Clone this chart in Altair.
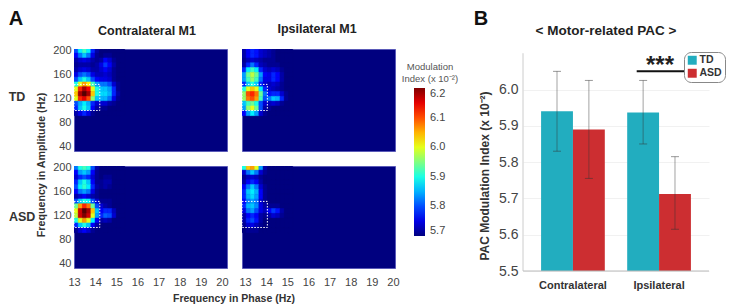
import altair as alt
import pandas as pd

FONT = "Liberation Sans"
cols = [13.0 + 0.2 * i for i in range(12)]
rows = [204 - 8 * i for i in range(14)]

td_contra = [
 [580,588,592,588,578,572,570,570,570,570,570,570],
 [576,582,586,582,575,571,570,571,571,570,570,570],
 [572,574,575,574,572,571,572,576,574,571,570,570],
 [571,572,572,572,571,572,575,579,576,572,570,570],
 [572,574,575,574,572,572,574,576,574,571,570,570],
 [575,580,582,580,575,573,573,574,573,571,570,570],
 [580,586,590,586,580,576,575,575,574,571,570,570],
 [590,600,606,602,592,584,582,582,580,574,571,570],
 [600,612,618,614,600,590,586,586,584,578,571,570],
 [604,618,622,618,604,590,587,587,585,578,572,570],
 [600,612,615,610,596,586,585,585,582,575,571,570],
 [580,585,588,585,578,574,574,574,572,571,570,570],
 [578,586,590,586,576,572,571,571,570,570,570,570],
 [572,575,578,575,571,570,570,570,570,570,570,570],
]
td_ipsi = [
 [572,576,578,577,574,573,572,571,570,570,570,570],
 [572,576,578,577,574,573,572,571,570,570,570,570],
 [571,573,574,573,572,571,571,571,570,570,570,570],
 [572,578,582,578,573,572,571,571,571,570,570,570],
 [578,588,592,588,578,574,573,574,573,571,570,570],
 [584,594,598,594,584,576,575,578,576,572,570,570],
 [584,592,596,592,582,575,575,578,576,572,570,570],
 [578,586,590,586,578,574,573,574,573,571,570,570],
 [590,600,604,600,588,578,574,573,572,571,570,570],
 [596,610,612,608,594,582,577,578,578,574,571,570],
 [596,608,610,606,592,580,582,586,585,578,571,570],
 [586,592,594,590,580,574,573,574,573,571,570,570],
 [584,596,600,594,580,572,571,570,570,570,570,570],
 [576,584,588,584,574,571,570,570,570,570,570,570],
]
asd_contra = [
 [582,590,592,590,580,572,570,570,570,570,570,570],
 [576,584,586,584,576,571,570,570,570,570,570,570],
 [574,578,580,578,574,571,570,571,571,570,570,570],
 [578,586,590,586,576,571,571,572,572,570,570,570],
 [580,588,591,588,578,572,571,572,571,570,570,570],
 [576,582,584,582,575,571,570,570,570,570,570,570],
 [572,574,576,574,572,571,570,570,570,570,570,570],
 [580,586,590,588,580,574,571,571,571,570,570,570],
 [594,606,612,608,594,580,574,572,571,570,570,570],
 [600,616,622,618,604,586,576,578,578,573,570,570],
 [598,616,620,616,600,584,578,581,580,574,570,570],
 [590,600,606,600,588,576,572,573,572,570,570,570],
 [578,586,590,586,576,572,570,570,570,570,570,570],
 [571,574,576,574,571,570,570,570,570,570,570,570],
]
asd_ipsi = [
 [590,604,606,600,584,572,570,570,570,570,570,570],
 [574,582,586,582,574,571,570,570,570,570,570,570],
 [571,573,574,573,571,570,570,570,570,570,570,570],
 [572,576,578,576,572,570,570,570,570,570,570,570],
 [576,582,586,582,574,571,570,570,570,570,570,570],
 [578,586,588,585,576,571,570,570,570,570,570,570],
 [578,585,587,584,576,571,570,570,570,570,570,570],
 [576,582,584,582,574,571,570,570,570,570,570,570],
 [578,585,586,583,575,572,571,571,571,570,570,570],
 [575,582,584,580,575,573,576,579,577,572,570,570],
 [572,576,578,576,572,571,572,574,573,571,570,570],
 [572,578,580,577,572,570,570,570,570,570,570,570],
 [571,574,575,573,571,570,570,570,570,570,570,570],
 [570,571,571,571,570,570,570,570,570,570,570,570],
]

groups = ["Contralateral", "Ipsilateral"]
series = ["TD", "ASD"]
bar_group = ["Contralateral", "Contralateral", "Ipsilateral", "Ipsilateral"]
bar_series = ["TD", "ASD", "TD", "ASD"]
bar_value = [5.94, 5.89, 5.937, 5.712]
bar_base = [5.5, 5.5, 5.5, 5.5]
err_low = [5.83, 5.755, 5.85, 5.615]
err_high = [6.05, 6.025, 6.025, 5.815]
ticks_x = [13, 14, 15, 16, 17, 18, 19, 20]
ticks_y = [40, 80, 120, 160, 200]
ticks_bar = [5.5, 5.6, 5.7, 5.8, 5.9, 6.0]
ticks_cb = [5.7, 5.8, 5.9, 6.0, 6.1, 6.2]

NAVY = "#00007f"
color_scale = alt.Scale(
    domain=[5.7, 5.7625, 5.8875, 6.0125, 6.1375, 6.2],
    range=[NAVY, "#0000ff", "#00ffff", "#ffff00", "#ff0000", "#7f0000"],
    interpolate="rgb",
)
xs = alt.Scale(domain=[13, 20.24], nice=False, zero=False)
ys = alt.Scale(domain=[33, 203], nice=False, zero=False)
BAR_H = 222
bar_scale = alt.Scale(domain=[5.5, 6.1116], nice=False, zero=False, range=[BAR_H, 0])
bar_axis = alt.Axis(values=ticks_bar, format=".1f", ticks=False, domain=False, grid=True, title=None,
                    gridColor="#f1f1f1", labelFont=FONT, labelFontSize=14, labelColor="#444444",
                    labelPadding=5, labelOverlap=False)


def label(t, px, py, size, weight="bold", color="#222222", angle=0, align="center"):
    return alt.Chart(pd.DataFrame({"t": [t]})).mark_text(
        font=FONT, fontSize=size, fontWeight=weight, color=color, angle=angle,
        align=align, baseline="middle",
    ).encode(x=alt.value(px), y=alt.value(py), text="t:N")


def panel(grid, box_x2, show_x, show_y, extra=(), xoff=0):
    df = pd.DataFrame([
        {"f": cols[c], "f2": cols[c] + 0.2, "a": rows[r], "a2": rows[r] - 8, "v": grid[r][c] / 100}
        for r in range(len(rows)) for c in range(len(cols))
    ])
    xax = alt.Axis(values=ticks_x, title=None, ticks=False, domain=False, grid=False, labels=show_x,
                   labelFont=FONT, labelFontSize=11, labelColor="#444444", labelPadding=8,
                   labelOffset=xoff, labelFlush=False, labelOverlap=False, format="d")
    yax = alt.Axis(values=ticks_y, title=None, ticks=False, domain=False, grid=False, labels=show_y,
                   labelFont=FONT, labelFontSize=11, labelColor="#444444", labelPadding=3,
                   labelOverlap=False)
    cells = alt.Chart(df).mark_rect(strokeWidth=0.6, clip=True).encode(
        x=alt.X("f:Q", scale=xs, axis=xax),
        x2="f2:Q",
        y=alt.Y("a:Q", scale=ys, axis=yax),
        y2="a2:Q",
        color=alt.Color("v:Q", scale=color_scale, legend=None),
        stroke=alt.Stroke("v:Q", scale=color_scale, legend=None),
    )
    box = alt.Chart(pd.DataFrame({"x1": [13.0], "x2": [box_x2], "y1": [100.5], "y2": [144]})).mark_rect(
        fill=None, stroke="white", strokeWidth=1, strokeDash=[1.5, 1.5]
    ).encode(x=alt.X("x1:Q", scale=xs, axis=xax), x2="x2:Q", y=alt.Y("y1:Q", scale=ys, axis=yax), y2="y2:Q")
    return alt.layer(cells, box, *extra).properties(
        width=153, height=102, view=alt.ViewBackground(fill=NAVY, stroke="#5a5ab8", strokeWidth=1)
    )


X0, Y0 = 73, 48
a_labels = [
    label("A", 15 - X0, 18 - Y0, 20, color="#111111"),
    label("Contralateral M1", 146 - X0, 30 - Y0, 12.5),
    label("TD", 16 - X0, 96 - Y0, 12.5, color="#333333"),
]
p11 = panel(td_contra, 14.22, False, True, a_labels)
p12 = panel(td_ipsi, 14.2, False, False, [label("Ipsilateral M1", 316 - 241, 28 - Y0, 12.5)])
r2 = 165
b_labels = [
    label("ASD", 8 - X0, 216 - r2, 12.5, color="#333333", align="left"),
    label("Frequency in Amplitude (Hz)", 41 - X0, 164 - r2, 10.7, color="#333333", angle=270),
]
p21 = panel(asd_contra, 14.22, True, True, b_labels)
p22 = panel(asd_ipsi, 14.2, True, False, [label("Frequency in Phase (Hz)", 233 - 241, 298 - r2, 10.5, color="#333333")], xoff=3)

# colour bar lives in the gap column between the panels and the bars
spacer_df = pd.DataFrame({"v": ticks_cb})
spacer = alt.Chart(spacer_df).mark_point(opacity=0).encode(
    color=alt.Color("v:Q", scale=color_scale, legend=alt.Legend(
        type="gradient", orient="none", legendX=-8, legendY=13, direction="vertical",
        title=["Modulation", "Index (x 10⁻²)"],
        titleFont=FONT, titleFontSize=9.5, titleFontWeight="normal", titleColor="#555555", titleLimit=100,
        titleAlign="center", titlePadding=5, titleAnchor="middle",
        gradientLength=148, gradientThickness=11, values=ticks_cb, labelFont=FONT,
        labelFontSize=11, labelColor="#444444", labelOffset=5, gradientStrokeWidth=0, tickCount=6,
    )),
).properties(width=98, height=102, view=alt.ViewBackground(stroke=None))

bars_df = pd.DataFrame({"g": bar_group, "s": bar_series, "v": bar_value, "b": bar_base, "lo": err_low, "hi": err_high})
bar_x = alt.X("g:N", sort=groups, title=None,
              scale=alt.Scale(domain=groups, paddingInner=0.26, paddingOuter=0.21), axis=None)
bar_off = alt.XOffset("s:N", sort=series, scale=alt.Scale(domain=series, paddingInner=0, paddingOuter=0))
bars = alt.Chart(bars_df).mark_bar().encode(
    x=bar_x, xOffset=bar_off, y=alt.Y("v:Q", scale=bar_scale, axis=bar_axis), y2="b:Q",
    color=alt.Color("s:N", sort=series, scale=alt.Scale(domain=series, range=["#22adbf", "#cc2e31"]),
                    legend=alt.Legend(orient="none", legendX=161, legendY=3, title=None,
                                      strokeColor="#888888", cornerRadius=7, padding=3, symbolType="square",
                                      symbolSize=80, labelFont=FONT, labelFontSize=10.5, labelFontWeight="bold",
                                      labelColor="#333333", symbolStrokeWidth=0, rowPadding=2, labelOffset=2)),
)
errs = alt.Chart(bars_df).mark_rule(color="#333333", opacity=0.45, strokeWidth=1).encode(
    x=bar_x, xOffset=bar_off, y=alt.Y("lo:Q", scale=bar_scale, axis=bar_axis), y2="hi:Q"
)
cap_lo = alt.Chart(bars_df).mark_tick(color="#333333", opacity=0.5, size=8, thickness=1, orient="horizontal").encode(
    x=bar_x, xOffset=bar_off, y=alt.Y("lo:Q", scale=bar_scale, axis=bar_axis)
)
cap_hi = alt.Chart(bars_df).mark_tick(color="#333333", opacity=0.5, size=8, thickness=1, orient="horizontal").encode(
    x=bar_x, xOffset=bar_off, y=alt.Y("hi:Q", scale=bar_scale, axis=bar_axis)
)
axis_line = alt.Chart(pd.DataFrame({"a": [5.5], "b": [6.1]})).mark_rule(color="#cccccc", strokeWidth=1).encode(
    x=alt.value(0), y=alt.Y("a:Q", scale=bar_scale, axis=bar_axis), y2="b:Q"
)
base_line = alt.Chart(pd.DataFrame({"a": [5.5]})).mark_rule(color="#bbbbbb", strokeWidth=1).encode(
    x=alt.value(0), x2=alt.value(186), y=alt.Y("a:Q", scale=bar_scale, axis=bar_axis)
)
group_labels = alt.Chart(pd.DataFrame({"g": groups})).mark_text(
    font=FONT, fontSize=11, fontWeight="bold", color="#333333", baseline="middle"
).encode(x=bar_x, y=alt.value(285 - Y0), text="g:N")
sig = alt.Chart(pd.DataFrame({"a": [6.05]})).mark_rule(color="#111111", strokeWidth=2).encode(
    x=alt.value(635.7 - 522), x2=alt.value(683 - 522),
    y=alt.Y("a:Q", scale=bar_scale, axis=bar_axis)
)
B0 = 522
bar_chart = alt.layer(
    bars, errs, cap_lo, cap_hi, axis_line, base_line, group_labels, sig,
    label("***", 659 - B0, 65 - Y0, 24, color="#222222"),
    label("B", 480 - B0, 18 - Y0, 20, color="#111111"),
    label("< Motor-related PAC >", 605 - B0, 30 - Y0, 13.5),
    label("PAC Modulation Index (x 10⁻²)", 484 - B0, 175 - Y0, 12, color="#333333", angle=270),
).properties(width=186, height=102, view=alt.ViewBackground(stroke=None))

chart = alt.concat(p11, p12, spacer, bar_chart, p21, p22, columns=4,
                   spacing=15, bounds="flush", align="none").resolve_scale(
    color="independent", stroke="independent", x="independent", y="independent"
).properties(padding=0, background="white")
chart.save("out.html", embed_options={"renderer": "svg", "actions": False})
